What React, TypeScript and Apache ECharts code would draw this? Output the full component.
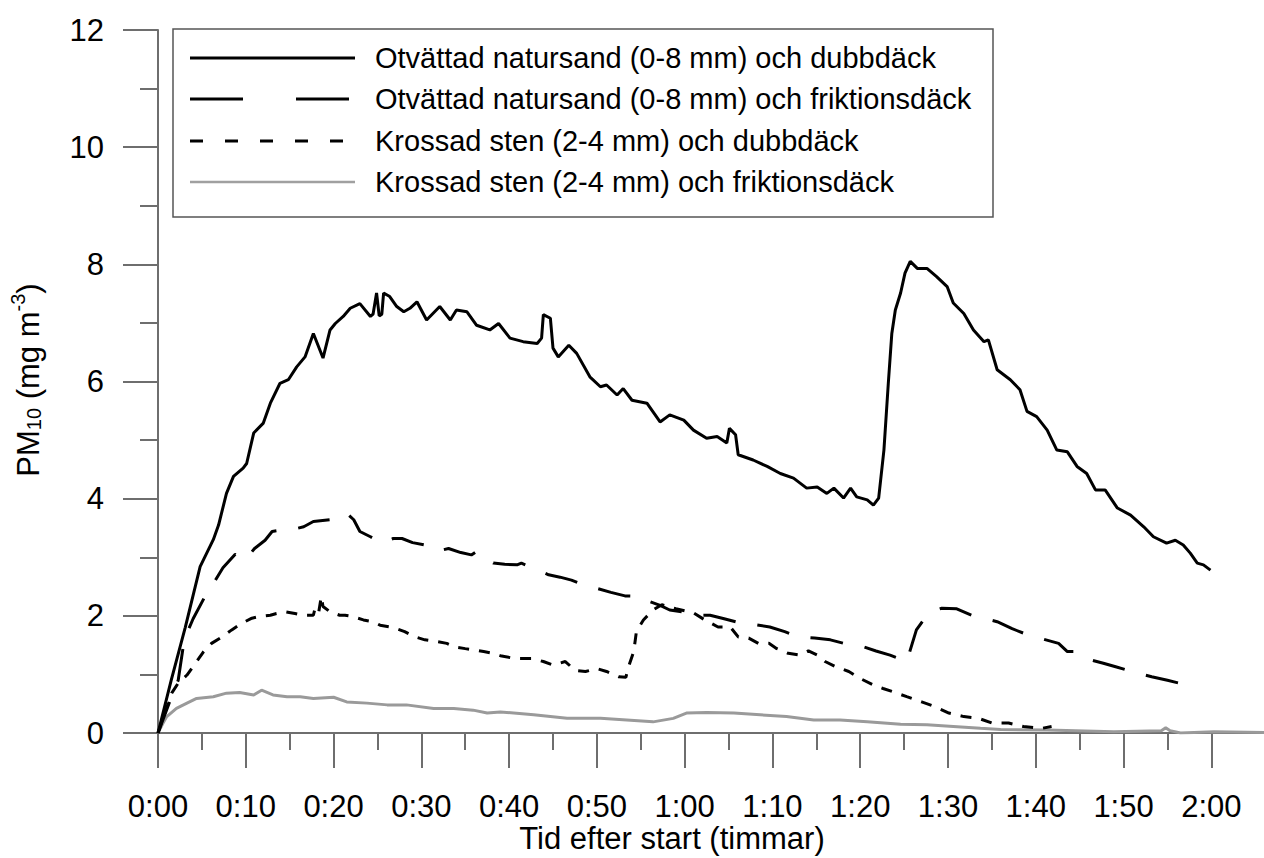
import React, { useEffect, useRef } from 'react';
import * as echarts from 'echarts';

const xMajorTicks = [0, 10, 20, 30, 40, 50, 60, 70, 80, 90, 100, 110, 120];
const xMinorTicks = [5, 15, 25, 35, 45, 55, 65, 75, 85, 95, 105, 115];

const legendLabels = [
  'Otvättad natursand (0-8 mm) och dubbdäck',
  'Otvättad natursand (0-8 mm) och friktionsdäck',
  'Krossad sten (2-4 mm) och dubbdäck',
  'Krossad sten (2-4 mm) och friktionsdäck',
];

// [minutes after start, PM10 mg m-3]
const sandStudded: [number, number][] = [
  [0, 0], [1.5, 0.9], [3.1, 1.8], [4.8, 2.84], [6.3, 3.3], [6.9, 3.55], [7.8, 4.09], [8.6, 4.38], [9.7, 4.52],
  [10.1, 4.6], [10.9, 5.12], [12.0, 5.29], [12.8, 5.63], [13.9, 5.97], [14.85, 6.03], [15.8, 6.25], [16.75, 6.42],
  [17.7, 6.82], [18.8, 6.4], [19.6, 6.88], [20.2, 6.99], [21.1, 7.11], [21.9, 7.25], [23.0, 7.33], [24.2, 7.11],
  [24.5, 7.15], [24.9, 7.51], [25.2, 7.12], [25.5, 7.15], [25.7, 7.51], [26.4, 7.45], [27.2, 7.28], [28.0, 7.19],
  [28.7, 7.25], [29.5, 7.36], [30.6, 7.05], [32.1, 7.28], [33.3, 7.05], [34.0, 7.22], [35.2, 7.19], [36.3, 6.96],
  [37.8, 6.88], [38.8, 6.99], [40.1, 6.74], [41.6, 6.68], [43.2, 6.65], [43.7, 6.74], [43.9, 7.14], [44.7, 7.08],
  [45.0, 6.57], [45.6, 6.42], [46.8, 6.62], [47.7, 6.48], [49.2, 6.08], [50.4, 5.91], [51.1, 5.94], [52.3, 5.77],
  [53.0, 5.88], [54.0, 5.68], [55.7, 5.63], [57.2, 5.31], [58.3, 5.43], [59.9, 5.34], [61.0, 5.17], [62.5, 5.03],
  [63.7, 5.06], [64.8, 4.95], [65.1, 5.2], [65.8, 5.09], [66.1, 4.75], [67.8, 4.66], [69.4, 4.55], [70.9, 4.43],
  [72.4, 4.35], [73.9, 4.18], [75.1, 4.2], [76.2, 4.09], [77.0, 4.18], [78.1, 4.01], [78.9, 4.18], [79.6, 4.03],
  [80.8, 3.98], [81.5, 3.89], [82.1, 4.01], [82.7, 4.83], [83.2, 5.97], [83.6, 6.82], [84.0, 7.22], [84.6, 7.51],
  [85.1, 7.85], [85.7, 8.05], [86.5, 7.93], [87.6, 7.93], [88.7, 7.79], [89.9, 7.62], [90.6, 7.34], [91.8, 7.16],
  [92.9, 6.88], [94.1, 6.68], [94.6, 6.71], [95.6, 6.2], [97.1, 6.03], [98.2, 5.86], [99.0, 5.49], [100.1, 5.4],
  [101.3, 5.17], [102.4, 4.83], [103.6, 4.8], [104.7, 4.55], [105.8, 4.43], [106.8, 4.15], [107.9, 4.15],
  [109.3, 3.84], [110.8, 3.72], [112.3, 3.52], [113.4, 3.35], [114.9, 3.24], [115.9, 3.29], [116.8, 3.21],
  [117.6, 3.07], [118.4, 2.9], [119.1, 2.87], [119.9, 2.78],
];

const sandFriction: [number, number][] = [
  [0, 0], [1.5, 0.6], [2.3, 0.9], [3.0, 1.6], [4.0, 1.95], [5.35, 2.33], [6.3, 2.55], [7.4, 2.82], [8.8, 3.05],
  [9.9, 2.95], [11.0, 3.15], [12.2, 3.29], [13.0, 3.44], [14.3, 3.47], [15.5, 3.48], [16.6, 3.52], [17.7, 3.61],
  [19.6, 3.64], [20.9, 3.69], [21.5, 3.75], [22.3, 3.64], [23.0, 3.44], [24.2, 3.35], [25.5, 3.24], [26.8, 3.32],
  [27.8, 3.32], [29.0, 3.25], [30.4, 3.21], [31.8, 3.1], [33.1, 3.15], [34.5, 3.08], [35.7, 3.04], [36.3, 3.1],
  [38.2, 2.9], [39.5, 2.88], [40.9, 2.87], [41.4, 2.9], [44.5, 2.7], [45.8, 2.66], [47.1, 2.61], [48.5, 2.53],
  [50.0, 2.47], [51.6, 2.4], [53.2, 2.34], [55.3, 2.33], [56.1, 2.24], [57.2, 2.18], [58.3, 2.1], [60.0, 2.06],
  [62.1, 2.01], [62.9, 2.01], [64.5, 1.95], [66.3, 1.88], [68.0, 1.85], [69.7, 1.81], [71.4, 1.73], [73.0, 1.64],
  [74.8, 1.62], [76.6, 1.59], [78.4, 1.52], [80.2, 1.48], [81.8, 1.4], [83.4, 1.33], [85.3, 1.22], [86.4, 1.76],
  [87.3, 1.95], [88.3, 2.08], [89.3, 2.13], [91.0, 2.12], [92.7, 2.01], [95.6, 1.9], [97.3, 1.78], [99.2, 1.67],
  [100.9, 1.6], [102.6, 1.53], [103.6, 1.39], [104.7, 1.39], [106.2, 1.25], [107.7, 1.19], [109.1, 1.13],
  [111.2, 1.04], [113.2, 0.96], [115.0, 0.9], [118.0, 0.79],
];

const stoneStudded: [number, number][] = [
  [0, 0], [1.56, 0.68], [2.3, 0.85], [3.3, 0.99], [4.4, 1.22], [5.2, 1.39], [6.1, 1.53], [7.3, 1.64], [8.4, 1.76],
  [9.5, 1.87], [10.7, 1.96], [11.6, 1.99], [12.8, 2.01], [13.5, 2.04], [14.5, 2.07], [15.6, 2.04], [16.6, 2.01],
  [17.7, 2.01], [17.9, 2.13], [18.3, 2.05], [18.6, 2.33], [18.8, 2.16], [19.6, 2.07], [20.7, 2.01], [21.3, 2.01],
  [22.1, 1.99], [23.4, 1.93], [24.5, 1.9], [25.3, 1.84], [26.4, 1.81], [27.0, 1.79], [28.1, 1.73], [29.3, 1.64],
  [30.4, 1.59], [31.8, 1.56], [32.9, 1.53], [33.8, 1.47], [35.0, 1.44], [35.9, 1.42], [37.1, 1.39], [38.2, 1.36],
  [39.0, 1.32], [40.7, 1.27], [42.6, 1.27], [43.9, 1.22], [45.0, 1.16], [46.4, 1.22], [47.5, 1.07], [48.7, 1.05],
  [50.0, 1.1], [51.1, 1.05], [52.5, 0.96], [53.3, 0.95], [53.6, 1.13], [54.2, 1.39], [54.5, 1.73], [55.3, 1.93],
  [56.4, 2.1], [57.4, 2.19], [59.0, 2.12], [61.0, 2.05], [62.3, 1.93], [63.8, 1.81], [65.2, 1.81], [66.1, 1.64],
  [67.3, 1.62], [68.4, 1.53], [69.6, 1.53], [70.5, 1.44], [71.8, 1.36], [73.1, 1.33], [74.1, 1.4], [75.1, 1.33],
  [76.0, 1.22], [77.2, 1.13], [78.7, 1.05], [80.0, 0.93], [81.5, 0.82], [82.6, 0.76], [83.8, 0.7], [85.3, 0.62],
  [87.0, 0.53], [88.5, 0.45], [90.1, 0.34], [91.8, 0.28], [93.5, 0.25], [95.0, 0.17], [96.9, 0.17], [98.6, 0.11],
  [100.7, 0.08], [101.8, 0.11],
];

const stoneFriction: [number, number][] = [
  [0, 0], [0.5, 0.15], [1.0, 0.28], [2.1, 0.42], [3.3, 0.51], [4.4, 0.59], [6.3, 0.62], [7.8, 0.68], [9.3, 0.69],
  [10.9, 0.65], [11.8, 0.73], [13.1, 0.65], [14.7, 0.62], [16.2, 0.62], [17.7, 0.59], [20.0, 0.61], [21.5, 0.53],
  [23.8, 0.51], [26.1, 0.48], [28.3, 0.48], [31.4, 0.42], [33.7, 0.42], [35.9, 0.39], [37.5, 0.34], [39.0, 0.36],
  [42.8, 0.31], [46.6, 0.25], [50.4, 0.25], [53.4, 0.22], [56.4, 0.19], [58.7, 0.25], [60.2, 0.34], [62.5, 0.35],
  [65.6, 0.34], [68.6, 0.31], [71.6, 0.28], [74.7, 0.22], [77.7, 0.22], [80.8, 0.19], [84.6, 0.15], [87.6, 0.14],
  [90.6, 0.11], [93.7, 0.08], [96.0, 0.06], [101.3, 0.05], [108.9, 0.02], [114.3, 0.04], [114.8, 0.09],
  [115.3, 0.04], [116.5, 0.0], [120.3, 0.02], [126.0, 0.01],
];

const FONT = '"Liberation Sans", Arial, sans-serif';
const AXIS_COLOR = '#6e6e6e';

function fmtTime(v: number) {
  const h = Math.floor(v / 60);
  const m = Math.round(v % 60);
  return `${h}:${String(m).padStart(2, '0')}`;
}

export default function App() {
  const ref = useRef<HTMLDivElement>(null);
  useEffect(() => {
    if (!ref.current) return;
    const chart = echarts.init(ref.current, null, { renderer: 'svg' });

    const legendRows = [58, 99, 141, 182];
    const legendStyles = [
      { stroke: '#000', lineWidth: 3, x2: 355 },
      { stroke: '#000', lineWidth: 3, lineDash: [53, 53], x2: 349 },
      { stroke: '#000', lineWidth: 3, lineDash: [13, 22], x2: 345 },
      { stroke: '#a0a0a0', lineWidth: 2.5, x2: 355 },
    ];

    const graphics: any[] = [
      {
        type: 'rect',
        z: 100,
        shape: { x: 173, y: 29, width: 820, height: 188 },
        style: { fill: '#fff', stroke: '#555', lineWidth: 1.5 },
      },
    ];
    legendLabels.forEach((label, i) => {
      const s = legendStyles[i];
      graphics.push({
        type: 'line',
        z: 101,
        shape: { x1: 190, y1: legendRows[i], x2: s.x2, y2: legendRows[i] },
        style: { stroke: s.stroke, lineWidth: s.lineWidth, lineDash: s.lineDash },
      });
      graphics.push({
        type: 'text',
        z: 101,
        x: 375,
        y: legendRows[i],
        style: {
          text: label,
          fontSize: 29,
          fontFamily: FONT,
          fill: '#000',
          align: 'left',
          verticalAlign: 'middle',
        },
      });
    });
    graphics.push({
      type: 'text',
      x: 672,
      y: 838,
      style: {
        text: 'Tid efter start (timmar)',
        fontSize: 31,
        fontFamily: FONT,
        fill: '#000',
        align: 'center',
        verticalAlign: 'middle',
      },
    });
    graphics.push({
      type: 'text',
      x: 28,
      y: 380,
      rotation: Math.PI / 2,
      style: {
        text: '{a|PM}{b|10}{a| (mg m}{c|-3}{a|)}',
        align: 'center',
        verticalAlign: 'middle',
        fill: '#000',
        fontSize: 31,
        fontFamily: FONT,
        rich: {
          a: { fontSize: 31, fontFamily: FONT, fill: '#000' },
          b: { fontSize: 20, fontFamily: FONT, fill: '#000', padding: [12, 0, 0, 0] },
          c: { fontSize: 20, fontFamily: FONT, fill: '#000', padding: [0, 0, 20, 0] },
        },
      },
    });

    const lineBase = { type: 'line', showSymbol: false, symbol: 'none', xAxisIndex: 0, yAxisIndex: 0 };

    chart.setOption({
      animation: false,
      backgroundColor: '#fff',
      grid: { left: 158, top: 30, right: 0, bottom: 125, containLabel: false, outerBoundsMode: 'none' },
      xAxis: [
        {
          type: 'value',
          min: 0,
          max: 126,
          position: 'bottom',
          axisLine: { show: true, onZero: false, lineStyle: { color: AXIS_COLOR, width: 2 } },
          axisTick: { show: true, customValues: xMajorTicks, length: 35, lineStyle: { color: AXIS_COLOR, width: 2 } },
          axisLabel: {
            show: true,
            customValues: xMajorTicks,
            formatter: (v: number) => fmtTime(v),
            fontSize: 31,
            fontFamily: FONT,
            color: '#000',
            margin: 73,
            verticalAlign: 'middle',
          },
          splitLine: { show: false },
        },
        {
          type: 'value',
          min: 0,
          max: 126,
          position: 'bottom',
          axisLine: { show: false, onZero: false },
          axisTick: { show: true, customValues: xMinorTicks, length: 17, lineStyle: { color: AXIS_COLOR, width: 2 } },
          axisLabel: { show: false },
          splitLine: { show: false },
        },
      ],
      yAxis: {
        type: 'value',
        min: 0,
        max: 12,
        interval: 2,
        axisLine: { show: true, lineStyle: { color: AXIS_COLOR, width: 2 } },
        axisTick: { show: true, length: 35, lineStyle: { color: AXIS_COLOR, width: 2 } },
        minorTick: { show: true, splitNumber: 2, length: 18, lineStyle: { color: AXIS_COLOR, width: 2 } },
        axisLabel: { fontSize: 31, fontFamily: FONT, color: '#000', margin: 54 },
        splitLine: { show: false },
        minorSplitLine: { show: false },
      },
      graphic: graphics,
      series: [
        {
          ...lineBase,
          name: legendLabels[3],
          data: stoneFriction,
          lineStyle: { color: '#9a9a9a', width: 3 },
        },
        {
          ...lineBase,
          name: legendLabels[2],
          data: stoneStudded,
          lineStyle: { color: '#000', width: 3, type: [11, 10] },
        },
        {
          ...lineBase,
          name: legendLabels[1],
          data: sandFriction,
          lineStyle: { color: '#000', width: 3, type: [33, 22] },
        },
        {
          ...lineBase,
          name: legendLabels[0],
          data: sandStudded,
          lineStyle: { color: '#000', width: 3 },
        },
      ],
    });
    return () => chart.dispose();
  }, []);
  return (
    <div
      ref={ref}
      style={{ position: 'fixed', left: 0, top: 0, width: 1264, height: 858, background: '#fff' }}
    />
  );
}
